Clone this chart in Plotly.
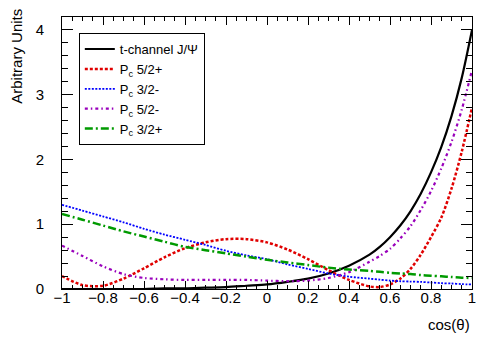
import plotly.graph_objects as go

# cos(theta) sample points
cos_theta = [-1, -0.9, -0.8, -0.7, -0.6, -0.5, -0.4, -0.3, -0.2, -0.1, 0,
             0.1, 0.2, 0.3, 0.4, 0.5, 0.55, 0.6, 0.65, 0.7, 0.75, 0.8,
             0.85, 0.9, 0.95, 1]

t_channel = [0.00, 0.00, 0.00, 0.00, 0.00, 0.01, 0.01, 0.02, 0.03, 0.05, 0.07,
             0.11, 0.16, 0.24, 0.36, 0.53, 0.65, 0.80, 0.98, 1.20, 1.47, 1.80,
             2.19, 2.67, 3.26, 4.00]
pc_52p = [0.20, 0.06, 0.05, 0.16, 0.32, 0.49, 0.63, 0.72, 0.77, 0.77, 0.72,
          0.61, 0.46, 0.29, 0.14, 0.04, 0.03, 0.07, 0.16, 0.31, 0.53, 0.80,
          1.10, 1.55, 2.12, 2.80]
pc_32m = [1.30, 1.21, 1.12, 1.03, 0.93, 0.84, 0.76, 0.68, 0.59, 0.52, 0.46,
          0.38, 0.31, 0.24, 0.19, 0.16, 0.145, 0.13, 0.12, 0.115, 0.11, 0.10,
          0.09, 0.085, 0.075, 0.07]
pc_52m = [0.67, 0.51, 0.35, 0.23, 0.17, 0.15, 0.14, 0.14, 0.14, 0.14, 0.13,
          0.12, 0.13, 0.17, 0.26, 0.42, 0.51, 0.62, 0.78, 0.97, 1.22, 1.51,
          1.86, 2.27, 2.77, 3.38]
pc_32p = [1.16, 1.07, 0.98, 0.89, 0.81, 0.73, 0.65, 0.60, 0.55, 0.50, 0.45,
          0.41, 0.37, 0.33, 0.30, 0.28, 0.265, 0.25, 0.24, 0.23, 0.215, 0.205,
          0.195, 0.185, 0.175, 0.17]

x_ticks = [-1, -0.8, -0.6, -0.4, -0.2, 0, 0.2, 0.4, 0.6, 0.8, 1]
y_ticks = [0, 1, 2, 3, 4]

FONT = 'Liberation Sans, Arial, sans-serif'

series = [
    ('t-channel J/Ψ', t_channel, '#000000', 'solid', 2.2),
    ('P<sub>c</sub> 5/2+', pc_52p, '#e00000', '3px,2px', 2.5),
    ('P<sub>c</sub> 3/2-', pc_32m, '#0000ff', '2px,1.5px', 1.8),
    ('P<sub>c</sub> 5/2-', pc_52m, '#9900bb', '3px,3px,1.5px,3px', 2.2),
    ('P<sub>c</sub> 3/2+', pc_32p, '#009a00', '8px,3px,2px,3px', 2.5),
]

fig = go.Figure()
for name, vals, color, dash, width in series:
    fig.add_trace(go.Scatter(
        x=cos_theta, y=vals, mode='lines', name=name,
        line=dict(color=color, dash=dash, width=width, shape='spline', smoothing=0.8),
    ))

# the page body adds 8px around the figure, so the figure is 8px smaller
fig.update_layout(
    width=490, height=331,
    margin=dict(l=54, r=26, t=9, b=50),
    plot_bgcolor='white', paper_bgcolor='white',
    font=dict(family=FONT, size=15, color='black'),
    showlegend=True,
    legend=dict(
        x=0.041, y=0.941, xanchor='left', yanchor='top',
        bordercolor='black', borderwidth=1, bgcolor='white',
        font=dict(size=13), itemwidth=30, tracegroupgap=0,
    ),
)

fig.update_xaxes(
    range=[-1, 1], tickvals=x_ticks, ticktext=[f'{v:g}'.replace('-', '\u2212') for v in x_ticks],
    ticks='inside', ticklen=8, tickcolor='black', mirror='allticks', ticklabelstandoff=-5,
    showline=True, linecolor='black', linewidth=1, showgrid=False, zeroline=False,
    minor=dict(dtick=0.05, ticks='inside', ticklen=4, tickcolor='black', showgrid=False),
)
fig.update_yaxes(
    range=[0, 4.2], tickvals=y_ticks,
    ticks='inside', ticklen=11, tickcolor='black', mirror='allticks', ticklabelstandoff=14,
    showline=True, linecolor='black', linewidth=1, showgrid=False, zeroline=False,
    minor=dict(dtick=0.2, ticks='inside', ticklen=6, tickcolor='black', showgrid=False),
)

fig.add_annotation(text='Arbitrary Units', xref='paper', yref='paper',
                   x=-0.11, y=0.857, xanchor='center', yanchor='middle',
                   textangle=-90, showarrow=False, font=dict(size=15))
fig.add_annotation(text='cos(θ)', xref='paper', yref='paper',
                   x=1.0, y=-0.132, xanchor='right', yanchor='middle',
                   showarrow=False, font=dict(size=15))

fig.write_html('out.html')
